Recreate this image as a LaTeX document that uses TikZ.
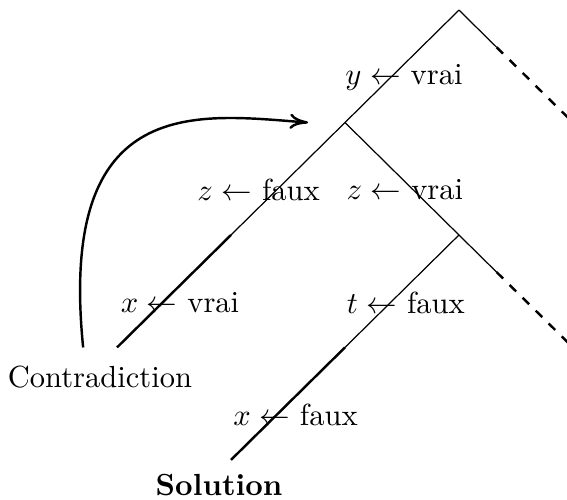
\documentclass[tikz,border=0pt]{standalone}
\usetikzlibrary{trees,arrows.meta}

\begin{document}
\begin{tikzpicture}[
  level distance=36.85pt,
  sibling distance=74.7pt,
  edge from parent/.style={draw, thin},
  lab/.style={pos=.6},
  cut/.style={thick, dashed}]
\useasboundingbox (-150.4pt,3.3pt) rectangle (35.4pt,-160.5pt);
\clip (-150.4pt,3.3pt) rectangle (35.4pt,-160.5pt);
\coordinate (root)
  child {coordinate (a)
    child {coordinate (c)
      child {coordinate (x1)
        edge from parent[thick] node[lab, xshift=5.7pt] {$x \leftarrow$ vrai}}
      child[missing] {}
      edge from parent node[lab, xshift=-5.9pt] {$z \leftarrow$ faux}}
    child {coordinate (b)
      child {coordinate (d)
        child {coordinate (x2)
          edge from parent[thick] node[lab, xshift=6.2pt] {$x \leftarrow$ faux}}
        child[missing] {}
        edge from parent node[lab, xshift=5pt] {$t \leftarrow$ faux}}
      child {coordinate (e) edge from parent[draw=none]}
      edge from parent node[lab, xshift=-2.8pt] {$z \leftarrow$ vrai}}
    edge from parent node[lab, xshift=4.4pt] {$y \leftarrow$ vrai}}
  child {coordinate (f) edge from parent[draw=none]};
\path (root) -- coordinate[pos=.33] (rf) (f);
\draw[thin] (root) -- (rf);
\draw[cut] (rf) -- (f);
\path (b) -- coordinate[pos=.33] (be) (e);
\draw[thin] (b) -- (be);
\draw[cut] (be) -- (e);
\node[xshift=-5.6pt, yshift=-9.7pt] (contradiction) at (x1) {Contradiction};
\node[inner sep=0pt, xshift=-3.9pt, yshift=-8.4pt] (solution) at (x2) {\textbf{Solution}};
\draw[thick, -{To[length=6pt, width=5pt]}] ([xshift=-11.1pt]x1) .. controls +(-8.5pt,84.3pt) and +(-35.4pt,2.6pt) .. ([xshift=-12.1pt]a);
\end{tikzpicture}
\end{document}
